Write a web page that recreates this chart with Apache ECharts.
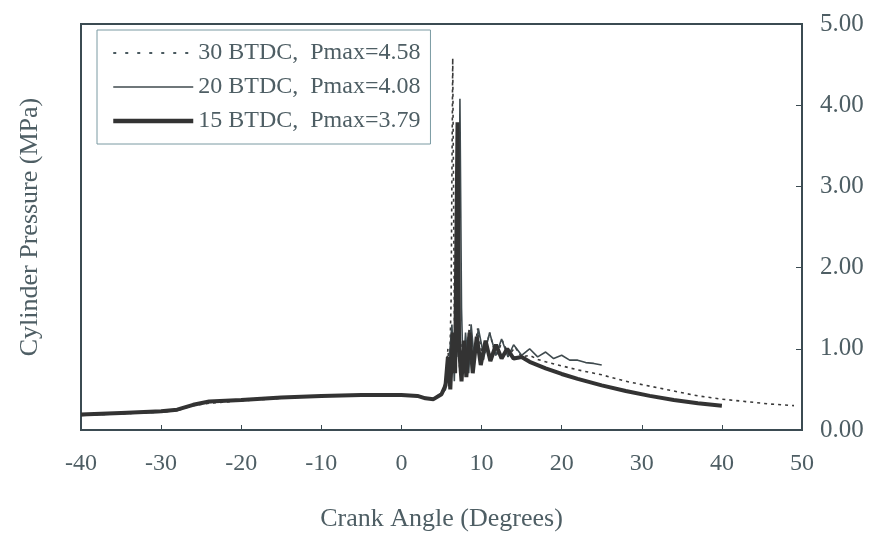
<!DOCTYPE html>
<html>
<head>
<meta charset="utf-8">
<script src="https://cdn.jsdelivr.net/npm/echarts@6/dist/echarts.min.js"></script>
<style>
  html, body { margin: 0; padding: 0; background: #fff; }
  #chart { width: 875px; height: 539px; }
</style>
</head>
<body>
<div id="chart"></div>
<script>
// crank angle (deg) / pressure (MPa)
const angle30 = [-40, -35, -30, -28, -26, -24, -20, -15, -10, -5, 0, 2, 3, 4, 5, 5.5, 5.8, 6.0, 6.2, 6.4, 6.6, 6.8, 7.0, 7.3, 7.6, 8.0, 8.5, 9.0, 9.5, 10.2, 11, 11.8, 12.6, 13.4, 14.2, 15, 16, 17, 18, 20, 22, 25, 28, 31, 34, 37, 40, 43, 46, 49];
const press30 = [0.18, 0.2, 0.22, 0.24, 0.3, 0.33, 0.36, 0.39, 0.42, 0.43, 0.43, 0.42, 0.39, 0.39, 0.45, 0.6, 1.0, 0.7, 1.6, 4.58, 1.4, 0.8, 1.2, 0.7, 1.1, 0.8, 1.3, 0.85, 1.25, 0.85, 1.2, 0.9, 1.1, 0.92, 1.02, 0.9, 0.92, 0.87, 0.84, 0.79, 0.74, 0.68, 0.6, 0.54, 0.48, 0.42, 0.38, 0.35, 0.32, 0.3];

const angle20 = [-40, -35, -30, -28, -26, -24, -20, -15, -10, -5, 0, 2, 3, 4, 5, 5.5, 5.9, 6.3, 6.6, 6.9, 7.1, 7.3, 7.5, 7.7, 8.0, 8.4, 8.7, 9.1, 9.6, 10.3, 11, 11.8, 12.5, 13.3, 14, 15, 16, 17, 18, 19, 20, 21, 22, 23, 24, 25];
const press20 = [0.18, 0.2, 0.22, 0.24, 0.31, 0.34, 0.37, 0.4, 0.42, 0.43, 0.43, 0.42, 0.4, 0.38, 0.44, 0.5, 0.8, 1.3, 0.6, 1.8, 0.9, 4.08, 1.5, 0.7, 1.2, 0.7, 1.3, 0.85, 1.25, 0.9, 1.2, 0.92, 1.12, 0.9, 1.05, 0.92, 1.0, 0.9, 0.96, 0.88, 0.92, 0.86, 0.86, 0.83, 0.82, 0.8];

const angle15 = [-40, -35, -30, -28, -26, -24, -20, -15, -10, -5, 0, 2, 3, 4, 5, 5.5, 5.8, 6.1, 6.4, 6.7, 7.0, 7.2, 7.5, 7.8, 8.1, 8.5, 8.9, 9.4, 9.9, 10.5, 11.1, 11.8, 12.5, 13.2, 14, 15, 16, 18, 20, 22, 25, 28, 31, 34, 37, 40];
const press15 = [0.19, 0.21, 0.23, 0.25, 0.31, 0.35, 0.37, 0.4, 0.42, 0.43, 0.43, 0.42, 0.39, 0.38, 0.44, 0.55, 0.9, 0.5, 1.2, 0.7, 3.79, 1.0, 0.6, 1.1, 0.65, 1.2, 0.7, 1.15, 0.8, 1.1, 0.85, 1.05, 0.88, 1.0, 0.88, 0.9, 0.84, 0.76, 0.69, 0.63, 0.55, 0.48, 0.42, 0.37, 0.33, 0.3];

const seriesNames = ['30 BTDC,  Pmax=4.58', '20 BTDC,  Pmax=4.08', '15 BTDC,  Pmax=3.79'];
const xTicks = [-40, -30, -20, -10, 0, 10, 20, 30, 40, 50];
const yTicks = [0, 1, 2, 3, 4, 5];

const ink = '#3b4b52';
const textInk = '#4e5e64';
const font = 'Liberation Serif';

const pairs = (xs, ys) => xs.map((x, i) => [x, ys[i]]);

const chart = echarts.init(document.getElementById('chart'));

const option = {
    animation: false,
    backgroundColor: '#fff',
    grid: {
        left: 81, right: 73, top: 24, bottom: 109,
        show: true, borderColor: ink, borderWidth: 2, backgroundColor: 'transparent'
    },
    legend: {
        orient: 'vertical',
        left: 97, top: 30,
        padding: [11, 10, 11, 14],
        itemWidth: 80, itemHeight: 14, itemGap: 10,
        itemStyle: { opacity: 0 },
        borderColor: '#7a9aa2', borderWidth: 1,
        textStyle: { fontFamily: font, fontSize: 24, color: textInk },
        data: [
            { name: seriesNames[0], lineStyle: { width: 2, type: [3, 9], color: '#4a5a60' } },
            { name: seriesNames[1], lineStyle: { width: 1.6, color: '#3f4a4e' } },
            { name: seriesNames[2], lineStyle: { width: 4.5, color: '#333' } }
        ]
    },
    xAxis: {
        type: 'value',
        min: xTicks[0], max: xTicks[xTicks.length - 1], interval: 10,
        name: 'Crank Angle (Degrees)',
        nameLocation: 'middle', nameGap: 76,
        nameTextStyle: { fontFamily: font, fontSize: 26, color: textInk },
        axisLine: { show: true, onZero: false, lineStyle: { color: ink, width: 2 } },
        axisTick: { show: true, inside: true, length: 5, lineStyle: { color: ink } },
        axisLabel: { fontFamily: font, fontSize: 24, color: textInk, margin: 22 },
        splitLine: { show: false }
    },
    yAxis: [
        {
            type: 'value', position: 'left',
            min: 0, max: 5, interval: 1,
            name: 'Cylinder Pressure (MPa)',
            nameLocation: 'middle', nameGap: 38,
            nameTextStyle: { fontFamily: font, fontSize: 26, color: textInk },
            axisLine: { show: true, onZero: false, lineStyle: { color: ink, width: 2 } },
            axisTick: { show: false },
            axisLabel: { show: false },
            splitLine: { show: false }
        },
        {
            type: 'value', position: 'right',
            min: 0, max: 5, interval: 1,
            axisLine: { show: true, onZero: false, lineStyle: { color: ink, width: 2 } },
            axisTick: { show: true, inside: true, length: 6, lineStyle: { color: ink } },
            axisLabel: {
                fontFamily: font, fontSize: 25, color: textInk, margin: 18,
                formatter: v => v.toFixed(2)
            },
            splitLine: { show: false }
        }
    ],
    series: [
        {
            name: seriesNames[0], type: 'line', symbol: 'none',
            data: pairs(angle30, press30),
            lineStyle: { color: '#3a3a3a', width: 1.6, type: [3, 4] },
            itemStyle: { color: '#3a3a3a' }
        },
        {
            name: seriesNames[1], type: 'line', symbol: 'none',
            data: pairs(angle20, press20),
            lineStyle: { color: '#3f4a4e', width: 1.6 },
            itemStyle: { color: '#3f4a4e' }
        },
        {
            name: seriesNames[2], type: 'line', symbol: 'none',
            data: pairs(angle15, press15),
            lineStyle: { color: '#333', width: 4 },
            itemStyle: { color: '#333' }
        }
    ]
};

chart.setOption(option);
</script>
</body>
</html>
